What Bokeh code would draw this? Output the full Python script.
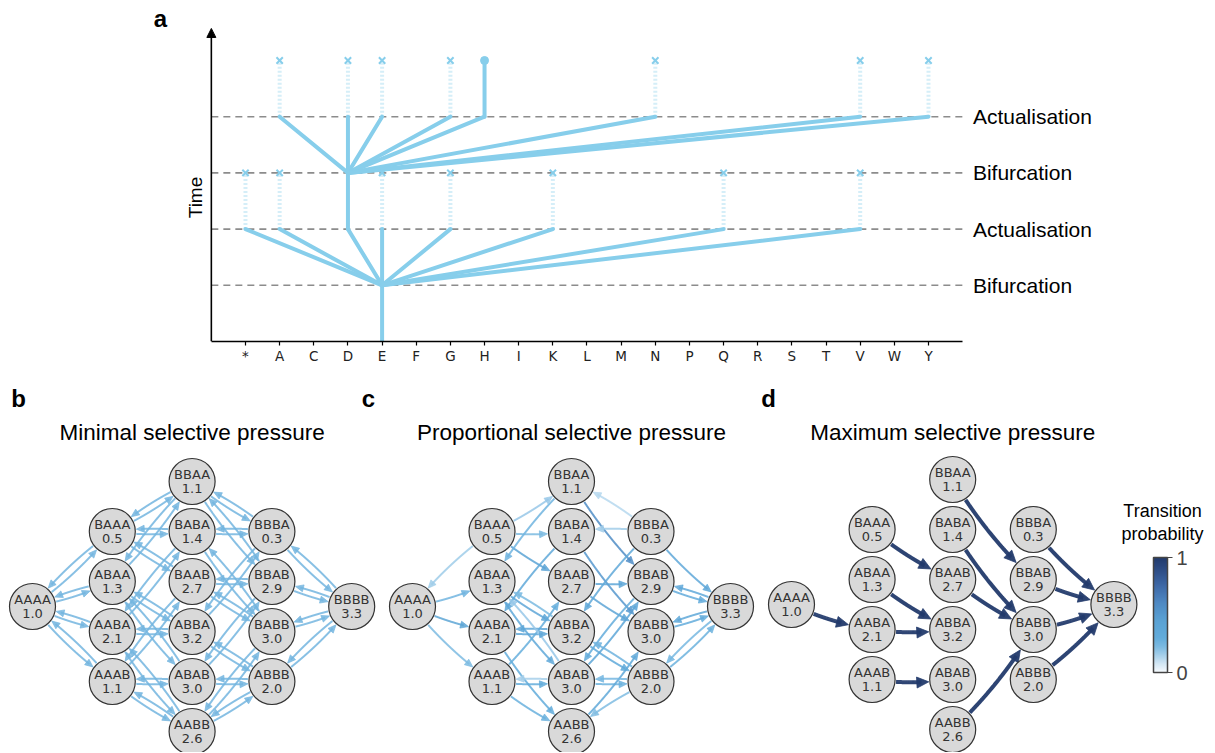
import numpy as np
from bokeh.plotting import figure
from bokeh.models import (Range1d, FixedTicker, Arrow, NormalHead,
                          LinearColorMapper, ColorBar)
from bokeh.layouts import column
from bokeh.embed import file_html
from bokeh.resources import INLINE
from bokeh.core.properties import value

# ---------------- Panel a data ----------------
residues = ["*", "A", "C", "D", "E", "F", "G", "H", "I", "K", "L",
            "M", "N", "P", "Q", "R", "S", "T", "V", "W", "Y"]
root_residue = "E"
gen1_children = ["*", "A", "D", "E", "G", "K", "Q", "V"]
gen1_survivor = "D"
gen2_children = ["A", "D", "E", "G", "H", "N", "V", "Y"]
gen2_survivor = "H"
level_times = [1, 2, 3, 4]
level_names = ["Bifurcation", "Actualisation", "Bifurcation", "Actualisation"]
end_time = 5

# ---------------- Panels b-d data ----------------
genotypes = ["AAAA",
             "BAAA", "ABAA", "AABA", "AAAB",
             "BBAA", "BABA", "BAAB", "ABBA", "ABAB", "AABB",
             "BBBA", "BBAB", "BABB", "ABBB",
             "BBBB"]
fitness = [1.0,
           0.5, 1.3, 2.1, 1.1,
           1.1, 1.4, 2.7, 3.2, 3.0, 2.6,
           0.3, 2.9, 3.0, 2.0,
           3.3]
panel_letters = ["b", "c", "d"]
panel_titles = ["Minimal selective pressure", "Proportional selective pressure",
                "Maximum selective pressure"]
panel_modes = ["minimal", "proportional", "maximum"]

# ---------------- styles ----------------
SKY = "#87CEEB"
SANS = value("Liberation Sans")
DJV = value("DejaVu Sans")
cbar_stops = [0.0, 0.08, 0.15, 0.22, 0.30, 0.45, 0.60, 0.75, 0.88, 1.0]
cbar_colors = ["#f7fbff", "#d0e5f4", "#a5cfea", "#7dbbe2", "#62acdb",
               "#5aa2d4", "#4f8ac4", "#3f6aa8", "#2f4f88", "#223a6c"]


def make_palette(stops, colors, n=256):
    rgb = np.array([[int(c[k:k + 2], 16) for k in (1, 3, 5)] for c in colors], float)
    xs = np.linspace(0, 1, n)
    out = []
    for x in xs:
        r, g, b = (np.interp(x, stops, rgb[:, k]) for k in range(3))
        out.append("#%02x%02x%02x" % (int(round(r)), int(round(g)), int(round(b))))
    return out


palette = make_palette(cbar_stops, cbar_colors)

W = 1215
HA = 372
HB = 380

# ================= Panel a =================
idx = {r: i for i, r in enumerate(residues)}
nres = len(residues)

pa = figure(width=W, height=HA, x_range=Range1d(-7.174, 28.404), y_range=Range1d(0, 6.0676),
            y_axis_location=None, output_backend="svg", toolbar_location=None,
            min_border_left=0, min_border_right=0, min_border_top=0, min_border_bottom=31)
pa.outline_line_color = None
pa.grid.visible = False

xa = pa.xaxis[0]
xa.ticker = FixedTicker(ticks=list(range(nres)))
xa.major_label_overrides = {i: r for i, r in enumerate(residues)}
xa.bounds = (-1, nres)
xa.axis_line_width = 1.6
xa.axis_line_color = "black"
xa.major_tick_out = 4
xa.major_tick_in = 0
xa.major_tick_line_width = 1.2
xa.minor_tick_line_color = None
xa.major_label_standoff = 2
xa.major_label_text_font = "DejaVu Sans"
xa.major_label_text_font_size = "13.5px"
xa.major_label_text_color = "#222222"

# time axis (arrow)
pa.add_layout(Arrow(end=NormalHead(size=9, fill_color="black", line_color="black"),
                    x_start=-1, y_start=0, x_end=-1, y_end=5.57,
                    line_width=1.6, line_color="black"))
pa.text(x=[-1.464], y=[2.562], text=["Time"], angle=np.pi / 2, text_align="center",
        text_baseline="middle", text_font=SANS, text_font_size="19px", text_color="black")
pa.text(x=[-2.49], y=[5.747], text=["a"], text_align="center", text_baseline="middle",
        text_font=SANS, text_font_size="24px", text_font_style="bold", text_color="black")

# dashed time levels
pa.segment(x0=[-1] * len(level_times), y0=level_times, x1=[nres] * len(level_times),
           y1=level_times, line_color="#8c8c8c", line_width=1.6, line_dash="7 5")
pa.text(x=[21.3] * len(level_times), y=level_times, text=level_names,
        text_font=SANS, text_font_size="21px", text_baseline="middle",
        text_align="left", text_color="black")

t_b1, t_a1, t_b2, t_a2 = level_times
sx0, sy0, sx1, sy1 = [], [], [], []
sx0.append(idx[root_residue]); sy0.append(0); sx1.append(idx[root_residue]); sy1.append(t_b1)
for c in gen1_children:
    sx0.append(idx[root_residue]); sy0.append(t_b1); sx1.append(idx[c]); sy1.append(t_a1)
sx0.append(idx[gen1_survivor]); sy0.append(t_a1); sx1.append(idx[gen1_survivor]); sy1.append(t_b2)
for c in gen2_children:
    sx0.append(idx[gen1_survivor]); sy0.append(t_b2); sx1.append(idx[c]); sy1.append(t_a2)
sx0.append(idx[gen2_survivor]); sy0.append(t_a2); sx1.append(idx[gen2_survivor]); sy1.append(end_time)

ex, ey0, ey1 = [], [], []
for c in gen1_children:
    if c != gen1_survivor:
        ex.append(idx[c]); ey0.append(t_a1); ey1.append(t_b2)
for c in gen2_children:
    if c != gen2_survivor:
        ex.append(idx[c]); ey0.append(t_a2); ey1.append(end_time)

pa.segment(x0=ex, y0=ey0, x1=ex, y1=ey1, line_color=SKY, line_alpha=0.35,
           line_width=4, line_dash="2 2")
pa.segment(x0=sx0, y0=sy0, x1=sx1, y1=sy1, line_color=SKY, line_width=4, line_cap="round")
pa.scatter(x=ex, y=ey1, marker="x", size=9, line_color=SKY, line_width=2)
pa.scatter(x=[idx[gen2_survivor]], y=[end_time], marker="circle", size=8,
           fill_color=SKY, line_color=SKY)

# ================= Panels b-d =================
n = len(genotypes)


def hamming(a, b):
    return sum(x != y for x, y in zip(a, b))


def transitions(mode):
    out = []
    for i, g in enumerate(genotypes):
        nb = [j for j in range(n) if hamming(g, genotypes[j]) == 1]
        if mode == "minimal":
            for j in nb:
                out.append((i, j, 1.0 / len(nb)))
        elif mode == "proportional":
            tot = sum(fitness[j] for j in nb)
            up = [j for j in nb if fitness[j] > fitness[i]]
            for j in (up if up else nb):
                out.append((i, j, fitness[j] / tot))
        else:
            best = max(nb, key=lambda j: fitness[j])
            if fitness[best] > fitness[i]:
                out.append((i, best, 1.0))
    return out


def grid_positions(origin, dx, dy):
    cols = {}
    pos = []
    for g in genotypes:
        cols.setdefault(g.count("B"), []).append(g)
    for g in genotypes:
        k = g.count("B")
        members = cols[k]
        j = members.index(g)
        m = len(members)
        pos.append((origin[0] + k * dx, origin[1] + ((m - 1) / 2 - j) * dy))
    return pos


def curved_edge(p0, p2, rad, r0, r2, head_len, head_w):
    x0, y0 = p0
    x2, y2 = p2
    ddx, ddy = x2 - x0, y2 - y0
    cx = (x0 + x2) / 2 + rad * ddy
    cy = (y0 + y2) / 2 - rad * ddx
    t = np.linspace(0, 1, 800)
    bx = (1 - t) ** 2 * x0 + 2 * (1 - t) * t * cx + t ** 2 * x2
    by = (1 - t) ** 2 * y0 + 2 * (1 - t) * t * cy + t ** 2 * y2
    d0 = np.hypot(bx - x0, by - y0)
    d2 = np.hypot(bx - x2, by - y2)
    i_start = int(np.argmax(d0 >= r0))
    i_tip = int(np.nonzero(d2 >= r2)[0][-1])
    tipx, tipy = bx[i_tip], by[i_tip]
    tt = t[i_tip]
    gx = 2 * (1 - tt) * (cx - x0) + 2 * tt * (x2 - cx)
    gy = 2 * (1 - tt) * (cy - y0) + 2 * tt * (y2 - cy)
    gn = np.hypot(gx, gy)
    ux, uy = gx / gn, gy / gn
    nx, ny = -uy, ux
    basex, basey = tipx - head_len * ux, tipy - head_len * uy
    dtip = np.hypot(bx - tipx, by - tipy)
    keep = np.arange(i_start, i_tip + 1)
    keep = keep[dtip[keep] >= head_len * 0.6]
    hx = [tipx, basex + head_w * nx, basex - head_w * nx]
    hy = [tipy, basey + head_w * ny, basey - head_w * ny]
    return list(bx[keep]), list(by[keep]), hx, hy


def pcolor(p):
    return palette[int(round(min(max(p, 0), 1) * 255))]


pb = figure(width=W, height=HB, x_range=Range1d(0, W), y_range=Range1d(0, HB),
            x_axis_location=None, y_axis_location=None, output_backend="svg",
            toolbar_location=None, min_border=0)
pb.outline_line_color = None
pb.grid.visible = False

panel_layout = [
    dict(origin=(32, 146), dx=79.8, dy=50, lw=2.0, hl=8, hw=3.5, alpha=0.85, letter_x=18),
    dict(origin=(412, 146), dx=79.5, dy=50, lw=2.0, hl=8, hw=3.5, alpha=0.85, letter_x=368),
    dict(origin=(791, 148), dx=80.6, dy=50, lw=4.0, hl=12, hw=5.5, alpha=0.95, letter_x=768),
]
R = 23
RAD = 0.07
TITLE_Y = 320
LETTER_Y = 354

for letter, title, mode, lay in zip(panel_letters, panel_titles, panel_modes, panel_layout):
    pos = grid_positions(lay["origin"], lay["dx"], lay["dy"])
    trans = transitions(mode)
    lxs, lys, hxs, hys, cols = [], [], [], [], []
    for i, j, p in trans:
        if p < 0.06:
            continue
        lx, ly, hx, hy = curved_edge(pos[i], pos[j], RAD, R + 1, R + 1, lay["hl"], lay["hw"])
        lxs.append(lx); lys.append(ly); hxs.append(hx); hys.append(hy)
        cols.append(pcolor(p))
    pb.multi_line(xs=lxs, ys=lys, line_color=cols, line_width=lay["lw"],
                  line_alpha=lay["alpha"])
    pb.patches(xs=hxs, ys=hys, fill_color=cols, line_color=cols, fill_alpha=lay["alpha"],
               line_alpha=lay["alpha"], line_width=0.8)
    px = [q[0] for q in pos]
    py = [q[1] for q in pos]
    pb.circle(x=px, y=py, radius=R, fill_color="#d9d9d9", line_color="#333333",
              line_width=1.2)
    pb.text(x=px, y=[v + 7 for v in py], text=genotypes, text_font=DJV,
            text_font_size="13px", text_align="center", text_baseline="middle",
            text_color="#333333")
    pb.text(x=px, y=[v - 7 for v in py], text=["%.1f" % f for f in fitness], text_font=DJV,
            text_font_size="13px", text_align="center", text_baseline="middle",
            text_color="#333333")
    cx_title = lay["origin"][0] + 2 * lay["dx"]
    pb.text(x=[cx_title], y=[TITLE_Y], text=[title], text_font=SANS, text_font_size="22.5px",
            text_align="center", text_baseline="middle", text_color="black")
    pb.text(x=[lay["letter_x"]], y=[LETTER_Y], text=[letter], text_font=SANS,
            text_font_size="24px", text_font_style="bold", text_align="center",
            text_baseline="middle", text_color="black")

pb.text(x=[1162, 1162], y=[242, 219], text=["Transition", "probability"], text_font=SANS,
        text_font_size="18px", text_align="center", text_baseline="middle",
        text_color="black")

mapper = LinearColorMapper(palette=palette, low=0, high=1)
cbar = ColorBar(color_mapper=mapper, location=(1153, 80), width=14, height=115, padding=0,
                ticker=FixedTicker(ticks=[0, 1]), major_label_text_font="Liberation Sans",
                major_label_text_font_size="20px", major_tick_out=5, major_tick_in=0,
                major_tick_line_color="#444444", major_tick_line_width=1.2,
                minor_tick_line_color=None, bar_line_color="#444444", bar_line_width=1.5,
                label_standoff=4, background_fill_color=None, border_line_color=None)
pb.add_layout(cbar, "center")

layout = column(pa, pb)
open("out.html", "w").write(file_html(layout, INLINE))
